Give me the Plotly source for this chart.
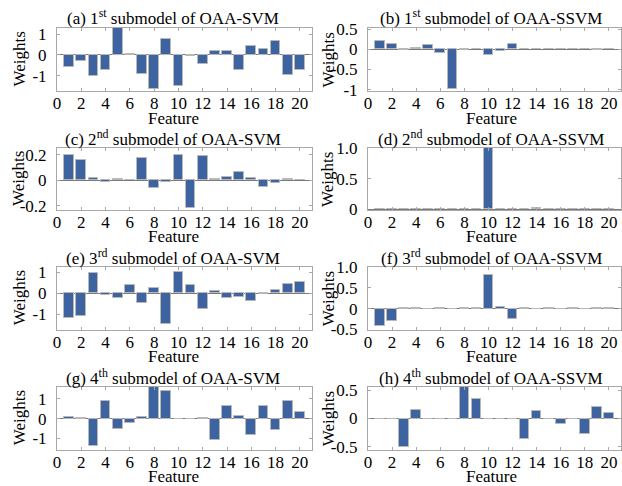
import plotly.graph_objects as go

features = list(range(1, 21))

w_a = [-0.57, -0.28, -1.0, -0.75, 1.35, 0.05, -0.93, -1.67, 0.77, -1.52, -0.04, -0.46, 0.18, 0.21, -0.75, 0.43, 0.28, 0.66, -0.95, -0.72]
w_b = [0.2, 0.125, -0.01, 0.02, 0.1, -0.1, -0.99, -0.01, 0.01, -0.15, -0.05, 0.14, 0.005, -0.005, 0.005, -0.005, 0.005, -0.005, -0.008, -0.005]
w_c = [0.195, 0.157, 0.021, -0.013, 0.011, 0.005, 0.176, -0.059, -0.013, 0.2, -0.213, 0.19, 0.011, 0.029, 0.067, 0.019, -0.053, -0.021, 0.011, 0.005]
w_d = [0.0, 0.0, 0.0, 0.004, 0.0, 0.0, 0.0, 0.0, 0.0, 1.0, 0.0, 0.0, 0.0, 0.02, 0.0, 0.0, 0.0, 0.0, 0.0, 0.0]
w_e = [-1.18, -1.1, 0.95, -0.1, -0.23, 0.39, -0.48, 0.26, -1.47, 1.02, 0.42, -0.74, 0.1, -0.24, -0.18, -0.37, -0.05, 0.16, 0.44, 0.53]
w_f = [-0.41, -0.29, 0.005, 0.005, -0.015, 0.015, 0.0, 0.005, 0.02, 0.8, 0.04, -0.24, 0.005, -0.01, 0.01, 0.0, 0.005, 0.0, 0.005, 0.005]
w_g = [0.1, 0.05, -1.38, 0.9, -0.5, -0.23, 0.07, 1.6, 1.37, -0.03, -0.03, 0.03, -1.08, 0.65, 0.13, -0.83, 0.62, -0.55, 0.9, 0.35]
w_h = [0.0, 0.0, -0.5, 0.15, 0.0, 0.0, 0.0, 0.58, 0.34, 0.0, 0.0, 0.0, -0.36, 0.13, 0.0, -0.09, 0.0, -0.28, 0.2, 0.1]

titles = [
    "(a) 1<sup>st</sup> submodel of OAA-SVM",
    "(b) 1<sup>st</sup> submodel of OAA-SSVM",
    "(c) 2<sup>nd</sup> submodel of OAA-SVM",
    "(d) 2<sup>nd</sup> submodel of OAA-SSVM",
    "(e) 3<sup>rd</sup> submodel of OAA-SVM",
    "(f) 3<sup>rd</sup> submodel of OAA-SSVM",
    "(g) 4<sup>th</sup> submodel of OAA-SVM",
    "(h) 4<sup>th</sup> submodel of OAA-SSVM",
]
series = [w_a, w_b, w_c, w_d, w_e, w_f, w_g, w_h]

x_ticks = list(range(0, 21, 2))
y_tickvals = [
    [-1, 0, 1],
    [-1, -0.5, 0, 0.5],
    [-0.2, 0, 0.2],
    [0, 0.5, 1.0],
    [-1, 0, 1],
    [-0.5, 0, 0.5, 1.0],
    [-1, 0, 1],
    [-0.5, 0, 0.5],
]
y_ticktext = [
    ["-1", "0", "1"],
    ["-1", "-0.5", "0", "0.5"],
    ["-0.2", "0", "0.2"],
    ["0", "0.5", "1.0"],
    ["-1", "0", "1"],
    ["-0.5", "0", "0.5", "1.0"],
    ["-1", "0", "1"],
    ["-0.5", "0", "0.5"],
]
y_ranges = [
    [-1.75, 1.31],
    [-1.03, 0.525],
    [-0.232, 0.253],
    [-0.01, 1.0],
    [-1.74, 1.26],
    [-0.5, 1.0],
    [-1.55, 1.58],
    [-0.55, 0.56],
]

W, H = 622, 486
col_px = [(57, 312), (368, 621)]
row_px = [(28, 91), (148, 210), (267, 329.5), (387, 449.5)]
title_cx = [173, 491]
ylab_cx = [19, 328]

FONT = "Liberation Serif, Times New Roman, serif"
BAR = "#3D64A0"
AX = "#a8a8a8"

fig = go.Figure()
annotations = []
for i, (vals, title) in enumerate(zip(series, titles)):
    r, c = divmod(i, 2)
    n = i + 1
    xa = "x" if n == 1 else f"x{n}"
    ya = "y" if n == 1 else f"y{n}"
    fig.add_trace(go.Bar(
        x=features, y=vals, xaxis=xa, yaxis=ya, width=0.8,
        marker=dict(color=BAR, line=dict(color="#b8b8b8", width=1)),
        showlegend=False,
    ))
    x0, x1 = col_px[c]
    t, b = row_px[r]
    common = dict(
        showline=True, linecolor=AX, linewidth=1, mirror="ticks",
        ticks="inside", ticklen=3, tickcolor=AX, showgrid=False,
        automargin=False,
        tickfont=dict(family=FONT, size=17, color="black"),
    )
    fig.layout[f"xaxis{'' if n == 1 else n}"] = dict(
        domain=[x0 / W, x1 / W], anchor=ya, range=[0, 21],
        tickvals=x_ticks, ticktext=[str(v) for v in x_ticks],
        zeroline=False, ticklabelstandoff=-3, **common,
    )
    fig.layout[f"yaxis{'' if n == 1 else n}"] = dict(
        domain=[1 - b / H, 1 - t / H], anchor=xa, range=y_ranges[i],
        tickvals=y_tickvals[i], ticktext=y_ticktext[i],
        zeroline=True, zerolinecolor="#7a7a7a", zerolinewidth=1,
        ticklabelstandoff=6, **common,
    )
    annotations.append(dict(
        text=title, x=title_cx[c] / W, y=1 - (t - 10.5) / H,
        xref="paper", yref="paper", showarrow=False,
        xanchor="center", yanchor="middle",
        font=dict(family=FONT, size=17, color="black"),
    ))
    annotations.append(dict(
        text="Feature", x=title_cx[c] / W, y=1 - (b + 27) / H,
        xref="paper", yref="paper", showarrow=False,
        xanchor="center", yanchor="middle",
        font=dict(family=FONT, size=17, color="black"),
    ))
    annotations.append(dict(
        text="Weights", x=ylab_cx[c] / W, y=1 - ((t + b) / 2) / H,
        xref="paper", yref="paper", showarrow=False, textangle=-90,
        xanchor="center", yanchor="middle",
        font=dict(family=FONT, size=17, color="black"),
    ))

fig.update_layout(
    template="none",
    width=W, height=H, margin=dict(l=0, r=0, t=0, b=0, pad=0),
    paper_bgcolor="white", plot_bgcolor="white",
    annotations=annotations, bargap=0,
)
fig.write_html("out.html")
